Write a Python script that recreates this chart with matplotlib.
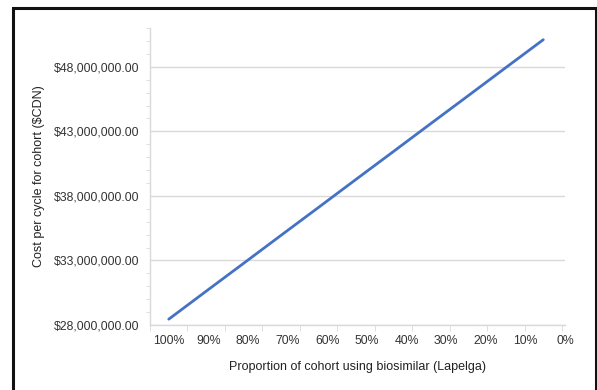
import matplotlib.pyplot as plt
from matplotlib.patches import Rectangle
from matplotlib.ticker import FuncFormatter, MultipleLocator

plt.rcParams['font.family'] = ['Liberation Sans', 'DejaVu Sans']

# Categories (share of cohort on the biosimilar)
categories = ['100%', '90%', '80%', '70%', '60%', '50%', '40%', '30%', '20%', '10%', '0%']
# Cost per cycle for the cohort, in $CDN
cost = [28.45e6, 30.62e6, 32.78e6, 34.95e6, 37.11e6, 39.28e6,
        41.44e6, 43.61e6, 45.77e6, 47.94e6, 50.10e6]
y_ticks = [28e6, 33e6, 38e6, 43e6, 48e6]

fig = plt.figure(figsize=(5.97, 3.90), dpi=100)
ax = fig.add_axes([0.2513, 0.1667, 0.6951, 0.7613])

x = list(range(len(categories)))
ax.plot(x, cost, color='#4472C4', linewidth=2.0, solid_capstyle='round')

ax.set_xlim(-0.5, len(categories) - 0.5)
ax.set_ylim(28e6, 51e6)

# y axis
ax.set_yticks(y_ticks)
ax.yaxis.set_minor_locator(MultipleLocator(1e6))
ax.yaxis.set_major_formatter(FuncFormatter(lambda v, p: f'${v:,.2f}'))
ax.grid(axis='y', which='major', color='#d9d9d9', linewidth=1.0)
ax.set_axisbelow(True)

# x axis: labels under the categories, tick marks between them
ax.set_xticks([i * 1.058 for i in x])
ax.set_xticklabels(categories)
ax.set_xticks([i - 0.5 for i in range(len(categories) + 1)], minor=True)
ax.tick_params(axis='x', which='major', length=0, pad=7)
ax.tick_params(axis='x', which='minor', length=4, color='#d9d9d9', direction='out')
ax.tick_params(axis='y', which='both', color='#d9d9d9', length=3, direction='out')
ax.tick_params(axis='y', which='major', length=0, pad=8)
ax.tick_params(labelsize=8.8, labelcolor='#333333')

for side in ['top', 'right']:
    ax.spines[side].set_visible(False)
for side in ['left', 'bottom']:
    ax.spines[side].set_color('#d9d9d9')
    ax.spines[side].set_linewidth(1.0)

ax.set_ylabel('Cost per cycle for cohort ($CDN)', fontsize=9, color='#222222', labelpad=6)
ax.set_xlabel('Proportion of cohort using biosimilar (Lapelga)', fontsize=9, color='#222222', labelpad=10)

# outer frame
fig.patches.append(Rectangle((12.5 / 597, -0.05), (596 - 12.5) / 597, 1 - 7.5 / 390 + 0.05,
                             transform=fig.transFigure, fill=False,
                             edgecolor='#111111', linewidth=2.2))

plt.savefig('out.png', dpi=100)
